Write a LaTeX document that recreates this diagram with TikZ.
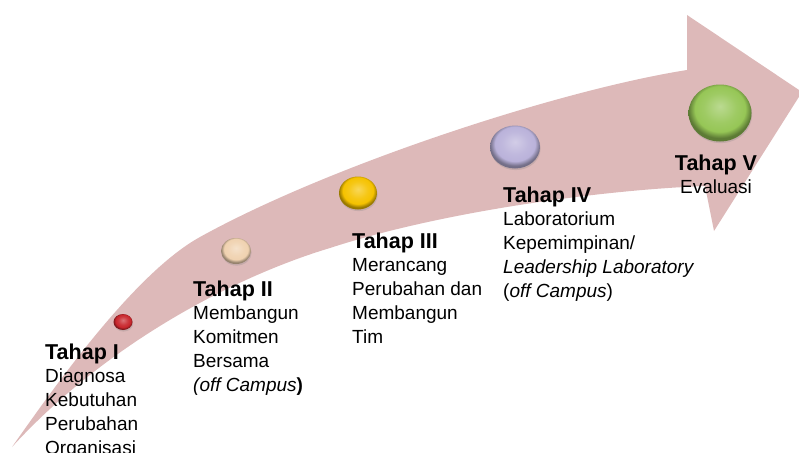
\documentclass[tikz,border=0pt]{standalone}
\usepackage{fontspec}
\setmainfont{Liberation Sans}
\usetikzlibrary{shapes.geometric,shadows}
\definecolor{tahband}{HTML}{DDB9B9}
\definecolor{tahred}{HTML}{C8262C}
\definecolor{tahcream}{HTML}{F0D2B0}
\definecolor{tahgold}{HTML}{F5C200}
\definecolor{tahlilac}{HTML}{BAB2DA}
\definecolor{tahgreen}{HTML}{96C656}
\colorlet{tahball}{tahred}
\pgfdeclareradialshading[tahball]{glossy}{\pgfpoint{0bp}{6bp}}{%
  color(0bp)=(tahball!65!white); color(13bp)=(tahball!92!white);
  color(20bp)=(tahball); color(25bp)=(tahball!62!black); color(50bp)=(tahball!62!black)}
\tikzset{
  band/.style={fill=tahband, draw=none},
  bol/.style={ellipse, inner sep=0pt, shading=glossy,
    drop shadow={shadow xshift=0.6pt, shadow yshift=-1.6pt, opacity=0.25}},
  stage/.style={anchor=north west, inner sep=0pt, align=left, font=\fontsize{19}{23.7}\selectfont},
}
\newcommand{\tahap}[1]{{\fontsize{21.5}{23.7}\selectfont\bfseries Tahap #1}}

\begin{document}
\begin{tikzpicture}[x=1pt, y=-1pt]
  \useasboundingbox (0,0) rectangle (799,452);
  \fill[band] (12,447) .. controls (57,383) and (135,273) .. (200,237)
    .. controls (330,165) and (560,90) .. (687,70) -- (687,15) -- (802,92)
    -- (714,231) -- (705,186) .. controls (600,190) and (440,212) .. (330,248)
    .. controls (240,275) and (110,340) .. (12,447) -- cycle;
  \foreach \i/\x/\y/\w/\h/\c in {1/123/322/19/16/tahred, 2/236/251/30/26/tahcream,
      3/358/193/38/33/tahgold, 4/515/147/50/43/tahlilac, 5/720/113/63/57/tahgreen} {
    \colorlet{tahball}{\c}
    \node[bol, minimum width=\w pt, minimum height=\h pt] (b\i) at (\x,\y) {};
  }
  \node[stage] (t1) at (45,343.5) {\tahap{I}\\Diagnosa\\Kebutuhan\\Perubahan\\Organisasi};
  \node[stage] (t2) at (193,280.5) {\tahap{II}\\Membangun\\Komitmen\\Bersama\\\textit{(off Campus}\textbf{)}};
  \node[stage] (t3) at (352,232.5) {\tahap{III}\\Merancang\\Perubahan dan\\Membangun\\Tim};
  \node[stage] (t4) at (503,186.5) {\tahap{IV}\\Laboratorium\\Kepemimpinan/\\\textit{Leadership Laboratory}\\(\textit{off Campus})};
  \node[stage, anchor=north, align=center] (t5) at (716,154.5) {\tahap{V}\\Evaluasi};
\end{tikzpicture}
\end{document}
